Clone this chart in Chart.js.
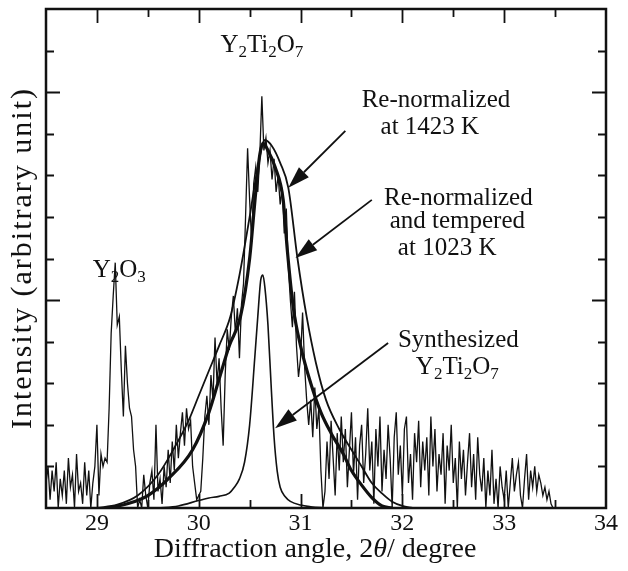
<!DOCTYPE html>
<html>
<head>
<meta charset="utf-8">
<script src="https://cdn.jsdelivr.net/npm/chart.js@4.4.1/dist/chart.umd.min.js"></script>
<style>
  html, body { margin: 0; padding: 0; background: #fff; }
</style>
</head>
<body>
<canvas id="myChart" width="628" height="571"></canvas>
<script>
  // measured XRD pattern, sampled every 0.02 deg from 28.50 to 33.50
  const scanStart = 28.5;
  const scanStep = 0.02;
  const measuredCounts = [
    0.6, 1.0, 0.2, 0.9, 0.4, 1.1, 0.0, 0.7, 0.3, 0.9, 0.1, 1.2, 0.5, 0.8, 0.0, 1.3, 0.4, 0.6, 0.1, 1.1, 0.3, 0.9, 0.0, 0.6, 1.0,
    2.0, 0.3, 1.3, 1.0, 1.2, 1.1, 2.4, 4.2, 5.1, 5.9, 4.4, 4.6, 3.3, 2.2, 3.9, 3.0, 2.4, 2.2, 1.4, 1.0,
    0.0, 0.2, 0.0, 0.8, 0.3, 0.0, 0.6, 0.9, 0.2, 2.0, 0.4, 0.7, 0.1, 1.0, 0.5,
    1.4, 0.6, 1.6, 0.9, 2.0, 1.2, 1.8, 2.3, 1.5, 2.4, 1.9, 2.1, 1.0, 0.6, 0.2, 0.3,
    0.4, 1.2, 2.2, 2.7, 2.0, 3.2, 2.6, 4.1, 3.0, 3.6, 2.4, 1.5, 3.2, 4.3, 3.8,
    4.6, 5.1, 4.2, 4.8, 3.6, 4.9, 5.4, 7.0, 8.65, 7.4, 6.4, 7.8, 8.2, 7.6, 8.5,
    9.9,
    8.6, 8.9, 8.3, 8.6, 7.9, 8.4, 7.6, 8.0, 7.3, 7.7, 6.6, 7.2, 5.8, 5.0, 4.35,
    5.2, 3.9, 3.15, 3.6, 4.7, 3.4, 2.6, 2.0, 2.6, 1.7, 2.9, 1.9, 2.4, 0.9, 0.0,
    0.4, 1.6, 0.7, 2.1, 1.2, 0.3, 1.8, 0.9, 2.2, 1.1,
    1.9, 0.5, 1.4, 2.3, 0.8, 1.7, 0.2, 1.5, 2.0, 0.6,
    1.3, 2.4, 0.9, 1.6, 0.1, 1.9, 1.0, 2.2, 0.4, 1.4,
    0.7, 2.0, 1.2, 0.0, 1.7, 2.3, 0.8, 1.5, 0.3, 1.9,
    2.2, 0.6, 1.3, 0.2, 1.8, 1.1, 2.1, 0.5, 1.6, 0.9,
    1.7, 0.3, 2.2, 1.0, 1.9, 0.4, 1.3, 0.8, 1.8, 0.1,
    1.5, 0.9, 2.0, 0.6, 1.2, 0.0, 1.6, 0.7, 1.4, 0.3,
    1.1, 1.8, 0.5, 1.3, 0.2, 1.7, 0.8, 0.4, 1.2, 0.0,
    0.9, 0.3, 1.4, 0.1, 0.7, 0.0, 1.0, 0.5, 0.2, 0.9,
    0.0, 0.6, 1.2, 0.4, 0.8, 1.1, 0.3, 0.0, 0.7, 1.3,
    0.2, 0.9, 0.5, 1.0, 0.4, 0.8, 0.6, 0.3, 0.5, 0.2,
    0.4, 0.1, 0.0, 0.0
  ];

  // synthesized Y2Ti2O7 reference peak
  const synthAngles = [29.6, 29.8, 30.0, 30.1, 30.2, 30.3, 30.35, 30.4, 30.45, 30.5, 30.55, 30.58, 30.61, 30.63, 30.65, 30.68, 30.71, 30.74, 30.77, 30.8, 30.85, 30.9, 31.0, 31.1, 31.2, 31.3];
  const synthCounts = [0.0, 0.05, 0.18, 0.24, 0.28, 0.36, 0.5, 0.7, 1.1, 2.0, 3.6, 4.6, 5.5, 5.6, 5.3, 4.4, 3.0, 1.7, 0.9, 0.5, 0.27, 0.16, 0.07, 0.03, 0.01, 0.0];

  // re-normalized at 1423 K
  const hotAngles = [29.0, 29.2, 29.4, 29.6, 29.75, 29.9, 30.0, 30.1, 30.2, 30.31, 30.4, 30.5, 30.58, 30.65, 30.72, 30.8, 30.88, 30.97, 31.06, 31.15, 31.25, 31.38, 31.5, 31.6, 31.7, 31.8, 31.9, 32.0, 32.1];
  const hotCounts = [0.0, 0.08, 0.3, 0.8, 1.4, 2.1, 2.7, 3.3, 3.9, 4.6, 5.6, 7.0, 8.2, 8.85, 8.7, 8.3, 7.7, 6.0, 4.6, 3.5, 2.6, 1.9, 1.4, 1.0, 0.6, 0.35, 0.15, 0.05, 0.0];

  // re-normalized and tempered at 1023 K
  const temperedAngles = [29.1, 29.3, 29.5, 29.7, 29.94, 30.1, 30.2, 30.3, 30.41, 30.5, 30.56, 30.6, 30.63, 30.68, 30.75, 30.83, 30.87, 30.93, 31.0, 31.1, 31.2, 31.3, 31.42, 31.5, 31.6, 31.7, 31.8, 31.9];
  const temperedCounts = [0.0, 0.1, 0.3, 0.7, 1.4, 2.3, 3.1, 3.9, 4.6, 6.0, 7.6, 8.5, 8.77, 8.6, 8.2, 7.4, 6.2, 4.8, 3.9, 3.0, 2.3, 1.8, 1.3, 0.9, 0.55, 0.25, 0.05, 0.0];

  const xTickValues = [29, 30, 31, 32, 33, 34];

  const pairs = (xs, ys) => xs.map((x, i) => ({ x, y: ys[i] }));
  const measured = measuredCounts.map((y, i) => ({ x: +(scanStart + scanStep * i).toFixed(2), y }));

  const serif = 'Liberation Serif';
  const ink = '#111';

  // text labels and arrows, placed in axis units
  const labels = [
    { parts: [['Y'], ['2', 1], ['Ti'], ['2', 1], ['O'], ['7', 1]], x: 30.62, y: 11.13 },
    { parts: [['Re-normalized']], x: 32.33, y: 9.81 },
    { parts: [['at 1423 K']], x: 32.27, y: 9.16 },
    { parts: [['Re-normalized']], x: 32.55, y: 7.45 },
    { parts: [['and tempered']], x: 32.54, y: 6.88 },
    { parts: [['at 1023 K']], x: 32.44, y: 6.25 },
    { parts: [['Y'], ['2', 1], ['O'], ['3', 1]], x: 29.22, y: 5.72 },
    { parts: [['Synthesized']], x: 32.55, y: 4.04 },
    { parts: [['Y'], ['2', 1], ['Ti'], ['2', 1], ['O'], ['7', 1]], x: 32.54, y: 3.39 }
  ];
  const arrows = [
    { from: [31.44, 9.07], to: [30.88, 7.70] },
    { from: [31.70, 7.41], to: [30.95, 6.01] },
    { from: [31.86, 3.97], to: [30.75, 1.92] }
  ];

  function fontFor(p, size) {
    if (p[1] === 1) return Math.round(size * 0.68) + 'px "' + serif + '"';
    if (p[1] === 2) return 'italic ' + size + 'px "' + serif + '"';
    return size + 'px "' + serif + '"';
  }

  function drawRich(ctx, parts, cx, cy, size) {
    let width = 0;
    parts.forEach(p => {
      ctx.font = fontFor(p, size);
      width += ctx.measureText(p[0]).width;
    });
    let x = cx - width / 2;
    parts.forEach(p => {
      ctx.font = fontFor(p, size);
      ctx.fillText(p[0], x, p[1] === 1 ? cy + size * 0.28 : cy);
      x += ctx.measureText(p[0]).width;
    });
  }

  const frameAndNotes = {
    id: 'frameAndNotes',
    afterDraw(chart) {
      const { ctx, chartArea: a, scales: { x, y } } = chart;
      ctx.save();
      ctx.strokeStyle = ink;
      ctx.fillStyle = ink;

      // inward ticks on all four sides
      ctx.lineWidth = 1.8;
      ctx.beginPath();
      for (let v = 29; v <= 33.5; v += 0.5) {
        const px = Math.round(x.getPixelForValue(v)) + 0.5;
        const len = Number.isInteger(v) ? 14 : 8;
        ctx.moveTo(px, a.bottom); ctx.lineTo(px, a.bottom - len);
        ctx.moveTo(px, a.top); ctx.lineTo(px, a.top + len);
      }
      for (let v = 1; v < 12; v++) {
        const py = Math.round(y.getPixelForValue(v)) + 0.5;
        const len = v % 5 === 0 ? 14 : 8;
        ctx.moveTo(a.left, py); ctx.lineTo(a.left + len, py);
        ctx.moveTo(a.right, py); ctx.lineTo(a.right - len, py);
      }
      ctx.stroke();

      ctx.lineWidth = 2.5;
      ctx.strokeRect(a.left, a.top, a.right - a.left, a.bottom - a.top);

      ctx.textBaseline = 'middle';
      labels.forEach(l => drawRich(ctx, l.parts, x.getPixelForValue(l.x), y.getPixelForValue(l.y), 25));

      // arrows with filled heads
      ctx.lineWidth = 1.8;
      arrows.forEach(ar => {
        const x0 = x.getPixelForValue(ar.from[0]), y0 = y.getPixelForValue(ar.from[1]);
        const x1 = x.getPixelForValue(ar.to[0]), y1 = y.getPixelForValue(ar.to[1]);
        const ang = Math.atan2(y1 - y0, x1 - x0);
        const head = 22, half = 7;
        const bx = x1 - head * Math.cos(ang), by = y1 - head * Math.sin(ang);
        ctx.beginPath();
        ctx.moveTo(x0, y0); ctx.lineTo(bx, by);
        ctx.stroke();
        ctx.beginPath();
        ctx.moveTo(x1, y1);
        ctx.lineTo(bx + half * Math.sin(ang), by - half * Math.cos(ang));
        ctx.lineTo(bx - half * Math.sin(ang), by + half * Math.cos(ang));
        ctx.closePath();
        ctx.fill();
      });

      // axis titles
      drawRich(ctx, [['Diffraction angle, 2'], ['\u03b8', 2], ['/ degree']], 315, 550, 28);
      ctx.translate(23, 258);
      ctx.rotate(-Math.PI / 2);
      ctx.letterSpacing = '2px';
      drawRich(ctx, [['Intensity (arbitrary unit)']], 0, 0, 30);
      ctx.restore();
    }
  };

  const config = {
    type: 'line',
    data: {
      datasets: [
        { data: measured, borderColor: ink, borderWidth: 1.3, tension: 0 },
        { data: pairs(synthAngles, synthCounts), borderColor: ink, borderWidth: 1.6, cubicInterpolationMode: 'monotone' },
        { data: pairs(hotAngles, hotCounts), borderColor: ink, borderWidth: 1.8, cubicInterpolationMode: 'monotone' },
        { data: pairs(temperedAngles, temperedCounts), borderColor: ink, borderWidth: 3.2, cubicInterpolationMode: 'monotone' }
      ]
    },
    options: {
      responsive: false,
      animation: false,
      layout: { padding: { top: 9, right: 22, left: 0, bottom: 0 } },
      elements: { point: { radius: 0 } },
      plugins: { legend: { display: false }, tooltip: { enabled: false } },
      scales: {
        x: {
          type: 'linear', min: 28.5, max: 34,
          afterFit(scale) { scale.height = 63; },
          afterBuildTicks(scale) { scale.ticks = xTickValues.map(v => ({ value: v })); },
          grid: { display: false, drawTicks: false },
          border: { display: false },
          ticks: { padding: 1, color: ink, autoSkip: false, maxRotation: 0, font: { family: serif, size: 24 } }
        },
        y: {
          type: 'linear', min: 0, max: 12,
          afterFit(scale) { scale.width = 46; },
          grid: { display: false, drawTicks: false },
          border: { display: false },
          ticks: { display: false }
        }
      }
    },
    plugins: [frameAndNotes]
  };

  const myChart = new Chart(document.getElementById('myChart'), config);
</script>
</body>
</html>
